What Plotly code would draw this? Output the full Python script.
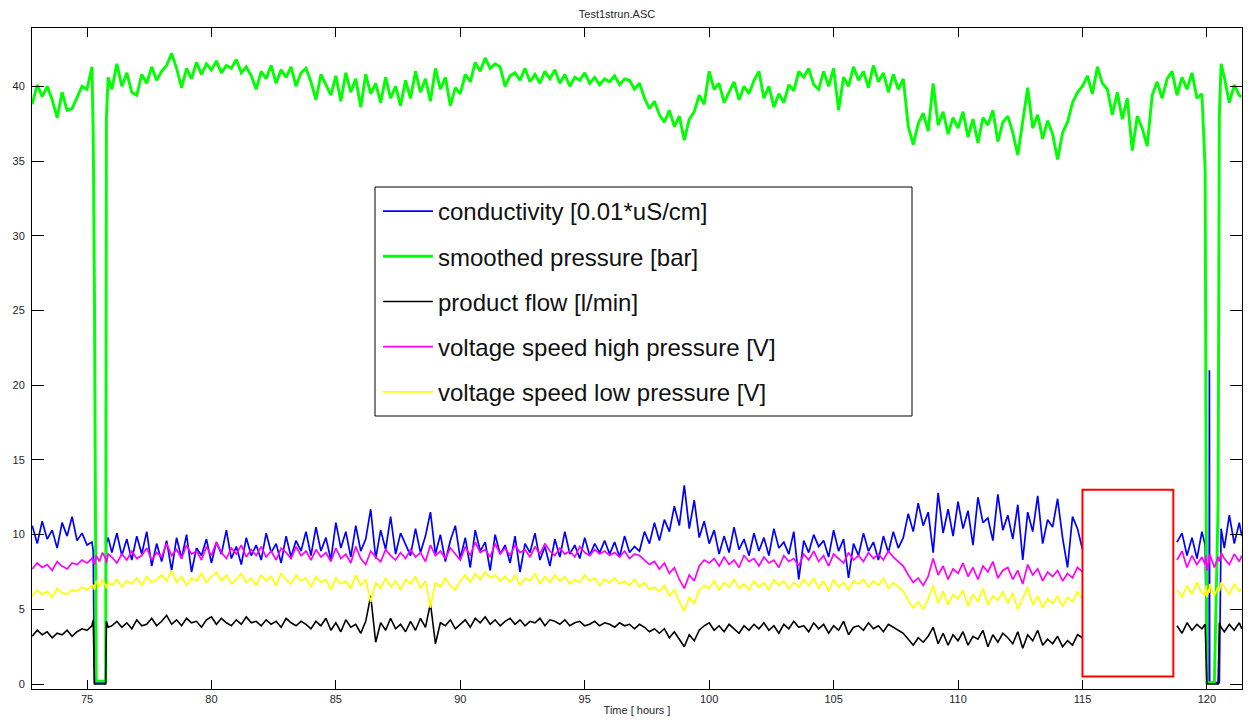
import plotly.graph_objects as go

# ---- sample times [hours] ----
hours = [
    72.8, 73.0, 73.2, 73.4, 73.6, 73.8, 74.0, 74.2, 74.4, 74.6, 74.8, 75.0, 75.2,
    75.25, 75.3, 75.37, 75.5, 75.62, 75.75, 75.78, 75.85,
    76.0, 76.2, 76.4, 76.6, 76.8, 77.0, 77.2, 77.4, 77.6, 77.8,
    78.0, 78.2, 78.4, 78.6, 78.8, 79.0, 79.2, 79.4, 79.6, 79.8,
    80.0, 80.2, 80.4, 80.6, 80.8, 81.0, 81.2, 81.4, 81.6, 81.8,
    82.0, 82.2, 82.4, 82.6, 82.8, 83.0, 83.2, 83.4, 83.6, 83.8,
    84.0, 84.2, 84.4, 84.6, 84.8, 85.0, 85.2, 85.4, 85.6, 85.8,
    86.0, 86.2, 86.4, 86.6, 86.8, 87.0, 87.2, 87.4, 87.6, 87.8,
    88.0, 88.2, 88.4, 88.6, 88.8, 89.0, 89.2, 89.4, 89.6, 89.8,
    90.0, 90.2, 90.4, 90.6, 90.8, 91.0, 91.2, 91.4, 91.6, 91.8,
    92.0, 92.2, 92.4, 92.6, 92.8, 93.0, 93.2, 93.4, 93.6, 93.8,
    94.0, 94.2, 94.4, 94.6, 94.8, 95.0, 95.2, 95.4, 95.6, 95.8,
    96.0, 96.2, 96.4, 96.6, 96.8, 97.0, 97.2, 97.4, 97.6, 97.8,
    98.0, 98.2, 98.4, 98.6, 98.8, 99.0, 99.2, 99.4, 99.6, 99.8,
    100.0, 100.2, 100.4, 100.6, 100.8, 101.0, 101.2, 101.4, 101.6, 101.8,
    102.0, 102.2, 102.4, 102.6, 102.8, 103.0, 103.2, 103.4, 103.6, 103.8,
    104.0, 104.2, 104.4, 104.6, 104.8, 105.0, 105.2, 105.4, 105.6, 105.8,
    106.0, 106.2, 106.4, 106.6, 106.8, 107.0, 107.2, 107.4, 107.6, 107.8,
    108.0, 108.2, 108.4, 108.6, 108.8, 109.0, 109.2, 109.4, 109.6, 109.8,
    110.0, 110.2, 110.4, 110.6, 110.8, 111.0, 111.2, 111.4, 111.6, 111.8,
    112.0, 112.2, 112.4, 112.6, 112.8, 113.0, 113.2, 113.4, 113.6, 113.8,
    114.0, 114.2, 114.4, 114.6, 114.8, 115.0, 115.2, 115.4, 115.6, 115.8,
    116.0, 116.2, 116.4, 116.6, 116.8, 117.0, 117.2, 117.4, 117.6, 117.8,
    118.0, 118.2, 118.4, 118.6, 118.8, 119.0, 119.2, 119.4, 119.6, 119.8,
    119.93, 119.97, 120.0, 120.09, 120.1, 120.11, 120.3, 120.45, 120.5, 120.57,
    120.7, 120.9, 121.1, 121.3, 121.4,
]

# ---- conductivity [0.01*uS/cm] ----
conductivity = [
    10.6, 9.4, 10.9, 9.7, 10.3, 9.1, 10.8, 9.9, 11.2, 9.6, 10.1, 9.3, 9.5,
    8.9, 0.1, 0.1, 0.1, 0.1, 0.1, 9.4, 9.8,
    8.8, 10.1, 8.6, 9.7, 8.3, 9.9, 8.7, 10.2, 7.9, 9.4,
    8.2, 9.6, 7.6, 9.8, 8.4, 10.0, 7.5, 9.1, 8.6, 9.7,
    8.1, 9.5, 8.7, 10.3, 8.4, 9.2, 8.0, 9.8, 8.6, 9.3,
    8.3, 10.1, 8.8, 9.4, 8.1, 9.9, 8.5, 9.6, 8.9, 10.2,
    8.6, 10.5, 8.9, 9.8, 8.3, 10.8, 9.1, 10.2, 8.5, 10.6,
    8.9, 9.7, 11.7, 8.4, 10.3, 9.0, 11.2, 8.7, 10.1, 9.3,
    8.6, 10.4, 8.8, 9.9, 11.5, 8.7, 10.0, 8.2, 9.6, 10.6,
    8.4, 9.8, 7.8, 10.3, 8.9, 9.5, 7.6, 10.0, 8.7, 9.3,
    8.1, 9.9, 7.5, 9.4, 8.8, 10.1, 8.3, 9.2, 7.9, 9.7,
    8.5, 10.2, 8.7, 9.3, 8.4, 9.8, 8.6, 9.4, 8.8, 9.6,
    8.7, 9.5, 8.5, 9.9, 8.8, 9.2, 8.9, 10.2, 9.4, 10.8,
    9.6, 11.0, 10.2, 11.9, 10.6, 13.3, 10.4, 12.3, 9.8, 10.9,
    9.4, 10.3, 8.7, 9.9, 8.8, 10.5, 9.0, 9.7, 8.6, 10.1,
    8.9, 9.8, 8.6, 10.4, 9.1, 9.5, 8.7, 10.2, 7.0, 9.6,
    8.8, 10.0, 9.2, 9.6, 8.5, 10.3, 8.9, 9.7, 7.1, 9.4,
    8.6, 10.1, 8.9, 9.5, 8.3, 9.9, 8.8, 10.2, 9.1, 9.8,
    11.4, 10.2, 12.1, 10.6, 11.5, 8.8, 12.8, 10.1, 11.7, 9.9,
    12.2, 10.4, 11.6, 9.3, 12.5, 10.8, 11.1, 9.6, 12.7, 10.3,
    11.3, 9.7, 12.0, 8.3, 11.5, 10.2, 12.6, 9.4, 11.0, 10.5,
    12.4, 9.8, 7.8, 11.2, 10.4, 9.0, None, None, None, None,
    None, None, None, None, None, None, None, None, None, None,
    None, None, None, None, 9.5, 10.1, 8.6, 9.8, 8.4, 10.2,
    9.3, 0.1, 0.1, 0.1, 21.0, 0.1, 0.1, 0.1, 0.1, 10.4,
    9.1, 11.3, 9.4, 10.8, 9.9,
]

# ---- smoothed pressure [bar] ----
pressure = [
    38.8, 40.1, 39.3, 40.0, 39.1, 37.9, 39.6, 38.4, 38.5, 39.2, 40.0, 39.8, 41.3,
    36.8, 26.0, 0.2, 0.2, 0.2, 0.2, 37.9, 40.6,
    39.8, 41.5, 40.0, 40.9, 39.6, 39.4, 40.8, 40.2, 41.3, 40.4,
    41.0, 41.4, 42.2, 41.2, 39.9, 41.2, 40.5, 41.6, 40.8, 41.5,
    41.1, 41.7, 40.9, 41.4, 41.2, 41.8, 40.9, 41.3, 40.7, 39.8,
    41.0, 40.5, 41.4, 40.2, 41.1, 40.6, 41.3, 40.0, 40.9, 41.2,
    40.3, 39.1, 40.8, 40.1, 39.4, 40.7, 39.0, 40.9, 39.6, 40.5,
    38.6, 40.8, 39.5, 40.2, 38.9, 40.6, 39.2, 40.0, 38.7, 40.4,
    39.2, 41.0, 39.6, 40.5, 39.0, 41.2, 39.8, 40.6, 38.7, 39.9,
    39.5, 40.8, 40.3, 41.6, 41.0, 41.9, 41.2, 41.5, 41.3, 40.0,
    40.7, 40.9, 40.4, 41.2, 40.3, 40.8, 40.2, 41.0, 40.5, 41.1,
    40.2, 40.8, 40.0, 40.6, 40.4, 40.9, 40.2, 40.6, 40.1, 40.5,
    40.3, 40.7, 40.1, 40.5, 40.4, 39.8, 40.2, 39.2, 38.5, 39.0,
    38.1, 37.6, 38.4, 37.3, 38.0, 36.4, 37.8, 38.3, 39.4, 38.8,
    41.0, 39.8, 40.2, 38.9, 39.6, 40.3, 39.1, 40.0, 39.5, 40.4,
    41.0, 39.2, 40.0, 38.6, 39.5, 38.9, 40.1, 39.7, 41.0, 40.6,
    41.2, 40.1, 39.8, 41.0, 40.0, 41.2, 38.4, 40.6, 40.0, 41.3,
    40.4, 41.0, 39.9, 41.4, 40.3, 40.9, 39.6, 40.8, 39.8, 40.5,
    37.3, 36.1, 37.5, 38.2, 37.0, 40.2, 37.4, 38.3, 36.8, 37.9,
    37.2, 38.3, 36.6, 37.8, 36.2, 37.9, 37.4, 38.4, 36.3, 37.6,
    38.0, 36.9, 35.4, 37.8, 39.9, 37.2, 38.1, 36.5, 37.7, 36.8,
    35.1, 36.9, 37.6, 38.9, 39.6, 40.0, 40.7, 39.5, 41.3, 40.2,
    39.8, 38.1, 39.6, 37.8, 39.2, 35.7, 38.0, 37.2, 36.0, 39.4,
    40.3, 39.2, 40.5, 41.0, 39.4, 40.6, 39.8, 40.9, 39.2, 39.5,
    34.4, 12.0, 0.1, 0.1, 0.1, 0.1, 0.1, 12.0, 38.1, 41.5,
    40.6, 38.9, 40.1, 39.4, 39.3,
]

# ---- product flow [l/min] ----
product_flow = [
    3.2, 3.6, 3.3, 3.5, 3.1, 3.4, 3.3, 3.6, 3.2, 3.5, 3.7, 3.6, 3.9,
    4.3, 0.0, 0.0, 0.0, 0.0, 0.0, 4.2, 3.8,
    3.9, 4.2, 3.8, 4.1, 3.7, 4.3, 3.9, 4.0, 4.4, 3.9,
    4.2, 4.6, 4.0, 4.3, 3.9, 4.4, 4.1, 4.2, 3.8, 4.3,
    4.5, 4.0, 4.4, 4.1, 3.9, 4.3, 4.0, 4.5, 4.1, 4.2,
    3.9, 4.3, 4.0, 4.2, 3.8, 4.4, 4.1, 3.9, 4.2, 4.0,
    3.7, 4.2, 3.9, 4.4, 3.6, 4.1, 3.5, 4.3, 3.8, 4.0,
    3.4, 4.2, 5.9, 2.8, 4.1, 3.6, 4.4, 3.7, 4.0, 3.5,
    4.2, 3.6, 4.4, 3.8, 5.4, 2.7, 4.1, 3.9, 4.3, 3.7,
    4.0, 4.3, 3.8, 4.4, 4.1, 4.5, 4.0, 4.3, 3.9, 4.2,
    4.4, 4.0, 4.3, 3.9, 4.2, 4.1, 4.4, 3.9, 4.3, 4.2,
    4.0, 4.3, 3.9, 4.1, 4.2, 3.9, 4.0, 4.2, 3.9, 4.1,
    4.0, 3.8, 4.1, 3.9, 4.0, 3.7, 4.0, 3.8, 3.5, 3.7,
    3.4, 3.7, 3.1, 3.5, 3.0, 2.5, 3.3, 2.9, 3.6, 3.9,
    4.1, 3.6, 3.9, 3.5, 4.0, 3.7, 3.4, 3.9, 3.6, 4.0,
    3.7, 4.1, 3.6, 3.9, 3.4, 4.0, 3.7, 4.2, 3.8, 3.9,
    3.5, 4.1, 3.7, 4.0, 3.4, 3.9, 3.6, 4.2, 3.3, 3.8,
    3.9, 3.6, 4.1, 3.7, 3.9, 3.5, 4.0, 3.8, 3.6, 3.4,
    3.0, 2.6, 3.1, 2.8, 3.2, 3.8, 2.7, 3.4, 2.6, 3.3,
    2.9, 3.5, 2.6, 3.2, 3.0, 3.6, 2.5, 3.3, 2.8, 3.4,
    3.1, 2.7, 3.5, 2.4, 3.3, 2.9, 3.6, 2.6, 3.0, 2.7,
    3.2, 2.5, 2.9, 2.6, 3.3, 3.1, None, None, None, None,
    None, None, None, None, None, None, None, None, None, None,
    None, None, None, None, 3.9, 3.4, 4.1, 3.6, 4.0, 3.7,
    4.0, 0.0, 0.0, 0.0, 0.0, 0.0, 0.0, 0.0, 4.1, 3.8,
    3.5, 4.0, 3.6, 4.1, 3.7,
]

# ---- voltage speed high pressure [V] ----
voltage_high = [
    7.7, 8.1, 7.8, 8.0, 7.6, 8.2, 7.9, 7.7, 8.1, 8.0, 8.3, 8.1, 8.4,
    8.3, 8.0, 8.6, 8.2, 8.8, 8.4, 8.1, 8.7,
    8.5, 8.1, 8.7, 8.3, 8.9, 8.4, 8.6, 9.1, 8.3, 8.8,
    8.5, 9.4, 8.6, 9.0, 8.4, 9.3, 8.7, 8.9, 8.3, 9.2,
    8.6, 9.5, 8.8, 8.4, 9.1, 8.7, 9.3, 8.5, 9.0, 8.6,
    9.2, 8.5, 8.9, 8.3, 9.1, 8.8, 8.4, 9.2, 8.6, 8.9,
    8.3, 9.0, 8.5, 8.8, 8.2, 9.1, 8.4, 8.7, 8.1, 9.2,
    8.4, 8.0, 8.9, 8.5, 8.2, 9.0, 8.6, 8.3, 8.8, 8.4,
    9.0, 8.5, 8.8, 8.2, 9.3, 8.6, 8.9, 8.4, 9.1, 8.7,
    8.3, 9.2, 8.6, 9.5, 8.8, 9.0, 8.5, 9.4, 8.7, 9.1,
    8.6, 9.3, 8.8, 9.0, 8.5, 9.2, 8.7, 9.4, 8.9, 8.6,
    9.1, 8.7, 8.9, 8.5, 9.2, 8.8, 8.6, 9.0, 8.7, 8.9,
    8.6, 8.8, 8.5, 8.9, 8.4, 8.7, 8.6, 8.3, 8.0, 8.2,
    7.7, 8.1, 7.4, 7.8, 7.0, 6.4, 7.3, 6.9, 7.9, 8.3,
    8.1, 8.4, 7.9, 8.5, 8.0, 8.3, 7.8, 8.6, 8.2, 8.4,
    7.9, 8.5, 8.1, 8.3, 7.8, 8.6, 8.2, 8.4, 7.9, 8.7,
    8.3, 8.9, 8.2, 8.6, 7.9, 8.7, 8.4, 8.1, 8.8, 8.3,
    8.6, 8.2, 8.8, 8.4, 8.7, 8.3, 8.9, 8.5, 8.2, 7.9,
    7.3, 6.8, 7.1, 6.6, 7.2, 8.4, 7.3, 7.9, 7.0, 7.7,
    7.4, 8.1, 7.2, 7.8, 7.0, 7.9, 7.5, 8.2, 7.1, 7.6,
    7.8, 7.0, 7.6, 6.7, 8.0, 7.3, 7.7, 6.9, 7.5, 7.2,
    7.6, 6.9, 7.4, 7.1, 7.8, 7.5, None, None, None, None,
    None, None, None, None, None, None, None, None, None, None,
    None, None, None, None, 8.3, 8.9, 7.8, 8.6, 8.0, 8.5,
    8.0, 8.6, 7.6, 8.3, 8.1, 8.7, 7.8, 8.5, 8.2, 8.8,
    8.4, 8.0, 8.7, 8.2, 8.6,
]

# ---- voltage speed low pressure [V] ----
voltage_low = [
    5.9, 6.3, 6.0, 6.2, 5.8, 6.4, 6.1, 6.0, 6.3, 6.2, 6.5, 6.3, 6.6,
    6.6, 6.3, 6.9, 6.5, 7.0, 6.6, 6.4, 6.8,
    6.6, 7.0, 6.5, 6.9, 6.7, 7.1, 6.6, 7.2, 6.8, 7.0,
    7.3, 6.9, 7.6, 6.8, 7.2, 6.6, 7.1, 6.9, 7.4, 6.8,
    7.2, 7.5, 6.9, 7.3, 6.7, 7.0, 7.4, 6.8, 7.1, 6.6,
    7.3, 6.9, 7.2, 6.6, 7.4, 7.0, 6.7, 7.3, 6.9, 7.1,
    6.5, 7.2, 6.8, 7.0, 6.3, 7.1, 6.7, 6.9, 6.4, 7.3,
    6.6, 7.0, 5.5, 6.8, 6.4, 7.1, 6.5, 6.9, 6.3, 7.0,
    6.7, 7.2, 6.4, 6.9, 5.1, 6.8, 6.5, 7.1, 6.6, 6.3,
    6.9, 7.3, 6.8, 7.4, 7.0, 7.5, 7.1, 7.3, 6.9, 7.2,
    6.8, 7.3, 6.6, 7.1, 6.9, 7.4, 6.7, 7.2, 6.8, 7.3,
    6.9, 7.2, 6.7, 7.0, 6.8, 7.3, 6.9, 7.1, 6.6, 7.0,
    6.8, 7.1, 6.7, 6.9, 6.6, 7.0, 6.5, 6.8, 6.3, 6.5,
    6.2, 6.6, 5.9, 6.3, 5.5, 4.9, 5.8, 5.4, 6.3, 6.6,
    6.4, 6.9, 6.3, 6.8, 6.5, 7.0, 6.4, 6.7, 6.3, 6.9,
    6.5, 6.8, 6.3, 7.0, 6.6, 6.9, 6.4, 6.8, 6.5, 7.0,
    6.6, 7.1, 6.4, 6.9, 6.2, 7.0, 6.5, 6.8, 6.3, 6.9,
    6.7, 7.0, 6.5, 6.9, 6.6, 7.1, 6.4, 6.8, 6.5, 6.2,
    5.6, 5.1, 5.5, 5.0, 5.7, 6.6, 5.4, 6.2, 5.3, 6.0,
    5.7, 6.3, 5.2, 6.0, 5.5, 6.4, 5.3, 5.9, 5.6, 6.2,
    5.4, 6.1, 5.0, 5.8, 6.5, 5.3, 5.9, 5.1, 5.7, 5.4,
    5.9, 5.2, 5.8, 5.5, 6.2, 5.7, None, None, None, None,
    None, None, None, None, None, None, None, None, None, None,
    None, None, None, None, 6.3, 5.8, 6.6, 6.0, 6.8, 6.1,
    6.0, 6.6, 5.8, 6.4, 6.1, 6.7, 5.9, 6.5, 6.2, 6.8,
    6.5, 6.0, 6.7, 6.2, 6.4,
]

series_names = [
    "conductivity [0.01*uS/cm]",
    "smoothed pressure [bar]",
    "product flow [l/min]",
    "voltage speed high pressure [V]",
    "voltage speed low pressure [V]",
]
series_values = [conductivity, pressure, product_flow, voltage_high, voltage_low]
series_colors = ["#0000FF", "#00FF00", "#000000", "#FF00FF", "#FFFF00"]
series_widths = [1.7, 2.9, 1.6, 1.7, 1.7]

x_ticks = [75, 80, 85, 90, 95, 100, 105, 110, 115, 120]
y_ticks = [0, 5, 10, 15, 20, 25, 30, 35, 40]
x_range = [72.79, 121.41]
y_range = [-0.33, 43.9]

# highlighted (blanked) interval
box_hours = [115.0, 118.65]
box_values = [0.5, 13.0]

for vals in series_values:
    assert len(vals) == len(hours), (len(vals), len(hours))

FONT = "Liberation Sans, Arial, Helvetica, sans-serif"

fig = go.Figure()
for i, (name, vals, col, w) in enumerate(zip(series_names, series_values, series_colors, series_widths)):
    fig.add_trace(go.Scatter(
        x=hours, y=vals, mode="lines", name=name,
        line=dict(color=col, width=w),
        connectgaps=False, legendgroup=f"g{i}",
    ))

# red marker box
fig.add_shape(type="rect", xref="x", yref="y",
              x0=box_hours[0], x1=box_hours[1], y0=box_values[0], y1=box_values[1],
              line=dict(color="#FF0000", width=2), fillcolor="rgba(0,0,0,0)", layer="above")

# legend frame
W, H = 1251, 722
ml, mr, mt, mb = 32, 9, 28, 33
pw, ph = W - ml - mr, H - mt - mb
def px2paper_x(px):
    return (px - ml) / pw
def px2paper_y(py):
    return (H - mb - py) / ph

fig.add_shape(type="rect", xref="paper", yref="paper",
              x0=px2paper_x(375), x1=px2paper_x(912), y0=px2paper_y(416), y1=px2paper_y(187),
              line=dict(color="#000000", width=1), fillcolor="#FFFFFF", layer="above")

axis_common = dict(
    showline=True, linecolor="#000000", linewidth=1, mirror="ticks",
    ticks="inside", tickcolor="#000000", tickwidth=1,
    showgrid=False, zeroline=False,
    tickfont=dict(family=FONT, size=11, color="#262626"),
)

fig.update_layout(
    width=W, height=H,
    margin=dict(l=ml, r=mr, t=mt, b=mb, autoexpand=False),
    paper_bgcolor="#FFFFFF", plot_bgcolor="#FFFFFF",
    font=dict(family=FONT, color="#262626"),
    title=dict(text="Test1strun.ASC", x=617 / W, xref="container", xanchor="center",
               y=1 - 14 / H, yref="container", yanchor="middle",
               font=dict(family=FONT, size=11, color="#262626")),
    xaxis=dict(range=x_range, tickvals=x_ticks, ticklen=9, **axis_common,
               title=dict(text="Time [ hours ]", standoff=2,
                          font=dict(family=FONT, size=11, color="#262626"))),
    yaxis=dict(range=y_range, tickvals=y_ticks, ticklen=12, ticklabelstandoff=4, **axis_common),
    showlegend=True,
    legend=dict(x=px2paper_x(378), y=px2paper_y(189), xanchor="left", yanchor="top",
                bgcolor="rgba(0,0,0,0)", borderwidth=0,
                font=dict(family=FONT, size=24, color="#111111"),
                traceorder="grouped", tracegroupgap=11, itemwidth=50),
)

fig.write_html("out.html")
